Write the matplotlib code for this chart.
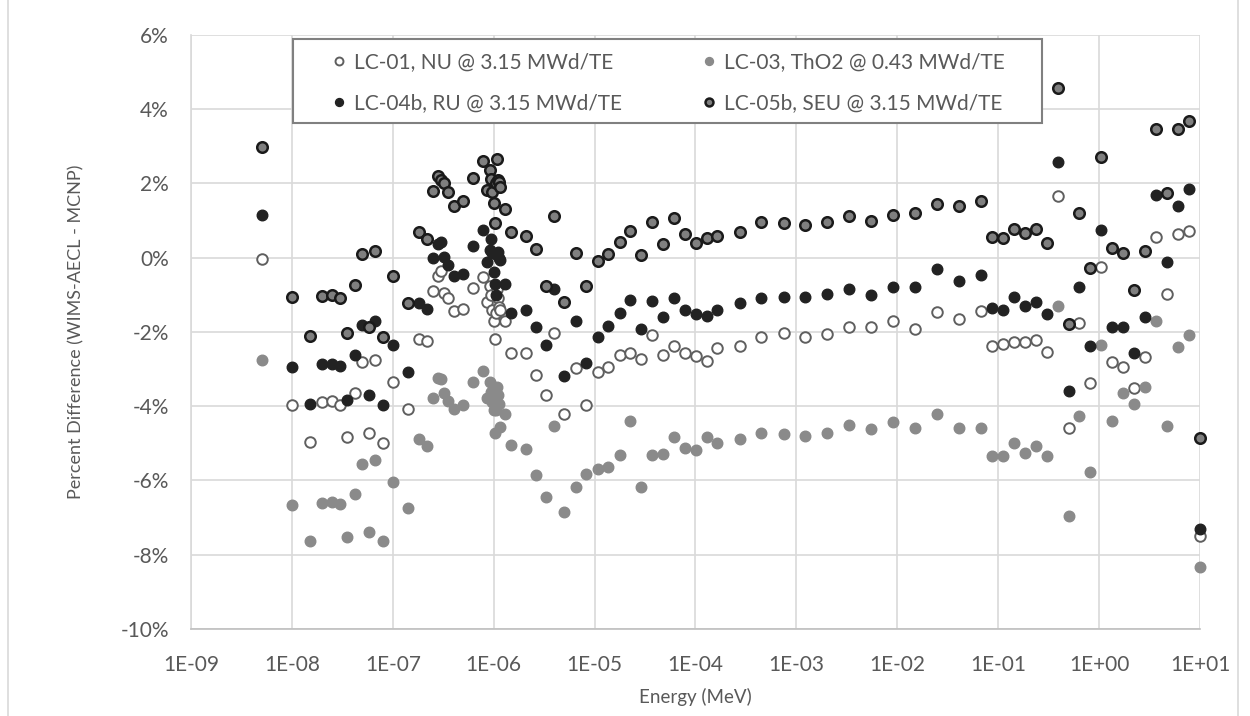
import numpy as np
import matplotlib.pyplot as plt
from matplotlib.lines import Line2D
from matplotlib.patches import Rectangle
from matplotlib.ticker import FixedLocator, FuncFormatter, NullLocator

# Group energies (MeV), 89 groups
energy = [5.0e-9, 1.0e-8, 1.5e-8, 2.0e-8, 2.5e-8, 3.0e-8, 3.5e-8, 4.2e-8, 5.0e-8, 5.8e-8,
          6.7e-8, 8.0e-8, 1.0e-7, 1.4e-7, 1.8e-7, 2.2e-7, 2.5e-7, 2.8e-7, 3.0e-7, 3.2e-7,
          3.5e-7, 4.0e-7, 5.0e-7, 6.25e-7, 7.8e-7, 8.5e-7, 9.1e-7, 9.5e-7, 9.72e-7, 9.96e-7,
          1.02e-6, 1.045e-6, 1.071e-6, 1.097e-6, 1.123e-6, 1.15e-6, 1.3e-6, 1.5e-6, 2.1e-6, 2.6e-6,
          3.3e-6, 4.0e-6, 5.03e-6, 6.47e-6, 8.26e-6, 1.07e-5, 1.37e-5, 1.77e-5, 2.25e-5, 2.88e-5,
          3.70e-5, 4.76e-5, 6.15e-5, 7.91e-5, 1.01e-4, 1.30e-4, 1.65e-4, 2.73e-4, 4.49e-4, 7.47e-4,
          1.23e-3, 2.01e-3, 3.32e-3, 5.49e-3, 9.118e-3, 1.503e-2, 2.478e-2, 4.085e-2, 6.734e-2, 8.65e-2,
          0.111, 0.1426, 0.183, 0.235, 0.3025, 0.388, 0.5, 0.639, 0.821, 1.054,
          1.353, 1.738, 2.231, 2.865, 3.679, 4.724, 6.0655, 7.788, 10.0]

# Percent differences (WIMS-AECL - MCNP)
lc01 = [-0.04, -3.96, -4.96, -3.90, -3.87, -3.96, -4.84, -3.64, -2.82, -4.72,
        -2.75, -4.99, -3.35, -4.07, -2.20, -2.24, -0.91, -0.49, -0.37, -0.94,
        -1.08, -1.45, -1.38, -0.83, -0.51, -1.19, -0.76, -1.00, -1.41, -1.72,
        -2.20, -1.50, -0.85, -1.09, -1.32, -1.40, -1.72, -2.56, -2.58, -3.16,
        -3.70, -2.02, -4.22, -2.98, -3.96, -3.09, -2.96, -2.62, -2.58, -2.74,
        -2.08, -2.63, -2.38, -2.58, -2.64, -2.78, -2.43, -2.38, -2.15, -2.04,
        -2.15, -2.07, -1.88, -1.88, -1.70, -1.93, -1.46, -1.66, -1.44, -2.38,
        -2.33, -2.26, -2.26, -2.22, -2.53, 1.66, -4.60, -1.77, -3.37, -0.24,
        -2.82, -2.95, -3.52, -2.69, 0.57, -0.97, 0.64, 0.72, -7.50]

lc03 = [-2.77, -6.67, -7.63, -6.60, -6.58, -6.64, -7.53, -6.37, -5.55, -7.39,
        -5.44, -7.64, -6.05, -6.74, -4.90, -5.08, -3.77, -3.25, -3.27, -3.66,
        -3.85, -4.08, -3.97, -3.34, -3.05, -3.79, -3.34, -3.61, -3.88, -4.11,
        -4.73, -4.10, -3.48, -3.70, -3.95, -4.57, -4.22, -5.05, -5.16, -5.86,
        -6.44, -4.53, -6.85, -6.19, -5.84, -5.69, -5.63, -5.32, -4.39, -6.19,
        -5.33, -5.29, -4.82, -5.12, -5.18, -4.82, -5.00, -4.88, -4.73, -4.76,
        -4.81, -4.73, -4.52, -4.63, -4.42, -4.60, -4.21, -4.60, -4.58, -5.35,
        -5.34, -5.00, -5.26, -5.07, -5.35, -1.30, -6.95, -4.27, -5.78, -2.35,
        -4.40, -3.66, -3.94, -3.48, -1.71, -4.53, -2.42, -2.08, -8.35]

lc04b = [1.16, -2.96, -3.94, -2.87, -2.87, -2.92, -3.83, -2.61, -1.81, -3.70,
         -1.72, -3.98, -2.36, -3.09, -1.22, -1.39, -0.02, 0.37, 0.43, 0.01,
         -0.19, -0.49, -0.44, 0.31, 0.75, -0.11, 0.21, 0.50, 0.12, -0.38,
         -0.72, -1.00, 0.08, 0.15, 0.00, -0.06, -0.72, -1.48, -1.41, -1.88,
         -2.35, -0.84, -3.19, -1.70, -2.85, -2.13, -1.84, -1.50, -1.14, -1.92,
         -1.17, -1.61, -1.08, -1.41, -1.53, -1.57, -1.41, -1.23, -1.08, -1.05,
         -1.07, -0.98, -0.84, -1.01, -0.80, -0.80, -0.30, -0.62, -0.47, -1.35,
         -1.40, -1.07, -1.29, -1.20, -1.52, 2.59, -3.59, -0.80, -2.38, 0.75,
         -1.86, -1.86, -2.58, -1.61, 1.69, -0.13, 1.39, 1.85, -7.32]

lc05b = [2.98, -1.07, -2.11, -1.02, -1.00, -1.09, -2.04, -0.75, 0.09, -1.86,
         0.19, -2.15, -0.49, -1.22, 0.69, 0.49, 1.79, 2.20, 2.08, 2.00,
         1.77, 1.38, 1.53, 2.14, 2.61, 1.81, 2.36, 2.11, 1.78, 1.48,
         0.94, 2.00, 2.65, 2.08, 2.05, 1.90, 1.30, 0.69, 0.58, 0.23,
         -0.76, 1.11, -1.19, 0.12, -0.77, -0.09, 0.10, 0.43, 0.73, 0.07,
         0.97, 0.36, 1.08, 0.63, 0.39, 0.54, 0.58, 0.70, 0.95, 0.94,
         0.87, 0.95, 1.11, 1.00, 1.15, 1.20, 1.45, 1.40, 1.53, 0.57,
         0.54, 0.77, 0.66, 0.77, 0.39, 4.57, -1.80, 1.21, -0.29, 2.72,
         0.27, 0.13, -0.87, 0.19, 3.47, 1.75, 3.47, 3.67, -4.85]

labels = ['LC-01, NU @ 3.15 MWd/TE', 'LC-03, ThO2 @ 0.43 MWd/TE',
          'LC-04b, RU @ 3.15 MWd/TE', 'LC-05b, SEU @ 3.15 MWd/TE']

plt.rcParams['font.family'] = ['Lato', 'DejaVu Sans']
plt.rcParams['axes.unicode_minus'] = False
txt = '#595959'

fig = plt.figure(figsize=(12.5, 7.16), dpi=100)
ax = fig.add_axes([0.1528, 0.1219, 0.8072, 0.8292])

ms = 7.6
h1, = ax.plot(energy, lc01, 'o', ls='none', ms=ms, mfc='white', mec='#5f5f5f', mew=1.4,
              clip_on=False, label=labels[0])
h3, = ax.plot(energy, lc03, 'o', ls='none', ms=ms, mfc='#8a8a8a', mec='#8a8a8a', mew=1.0,
              clip_on=False, label=labels[1])
h4, = ax.plot(energy, lc04b, 'o', ls='none', ms=ms, mfc='#222222', mec='#222222', mew=1.0,
              clip_on=False, label=labels[2])
h5, = ax.plot(energy, lc05b, 'o', ls='none', ms=ms, mfc='#7f7f7f', mec='#1a1a1a', mew=1.8,
              clip_on=False, label=labels[3])

ax.set_xscale('log')
ax.set_xlim(1e-9, 1e1)
ax.set_ylim(-10, 6)
ax.xaxis.set_major_locator(FixedLocator([10.0 ** k for k in range(-9, 2)]))
ax.xaxis.set_minor_locator(NullLocator())
ax.xaxis.set_major_formatter(FuncFormatter(lambda v, p: '1E%+03d' % int(round(np.log10(v)))))
ax.set_yticks(np.arange(-10, 7, 2))
ax.yaxis.set_major_formatter(FuncFormatter(lambda v, p: '%d%%' % v))

ax.grid(True, color='#d9d9d9', lw=1.2)
ax.set_axisbelow(True)
for s in ['top', 'right']:
    ax.spines[s].set_visible(False)
ax.spines['left'].set_color('#d9d9d9')
ax.spines['bottom'].set_color('#bfbfbf')
ax.spines['left'].set_linewidth(1.2)
ax.spines['bottom'].set_linewidth(1.2)
ax.tick_params(axis='both', length=0, labelsize=15, labelcolor=txt)
ax.tick_params(axis='y', pad=16)
ax.tick_params(axis='x', pad=19)

ax.set_xlabel('Energy (MeV)', fontsize=13.5, color=txt, labelpad=9)
ax.set_ylabel('Percent Difference (WIMS-AECL - MCNP)', fontsize=13, color=txt)
ax.yaxis.set_label_coords(-0.106, 0.5)

# legend frame drawn separately so the inner padding can differ per direction
ax.add_patch(Rectangle((0.1011, 0.8518), 0.7423, 0.1415, transform=ax.transAxes,
                       facecolor='white', edgecolor='#808080', lw=1.5, zorder=4))
leg = ax.legend([h1, h4, h3, h5], [labels[0], labels[2], labels[1], labels[3]],
                ncol=2, loc='upper left', bbox_to_anchor=(0.1407, 0.9706),
                fontsize=15, frameon=False, markerscale=0.75,
                handlelength=0.6, handletextpad=0.4, borderpad=0,
                labelspacing=1.0, columnspacing=3.9, borderaxespad=0)
leg.set_zorder(5)
for t in leg.get_texts():
    t.set_color(txt)

# chart area border
fig.add_artist(Line2D([8 / 1250, 8 / 1250], [0, 1], color='#d9d9d9', lw=1.2))
fig.add_artist(Line2D([1238 / 1250, 1238 / 1250], [0, 1], color='#d9d9d9', lw=1.2))

plt.savefig('out.png', dpi=100, facecolor='white')
